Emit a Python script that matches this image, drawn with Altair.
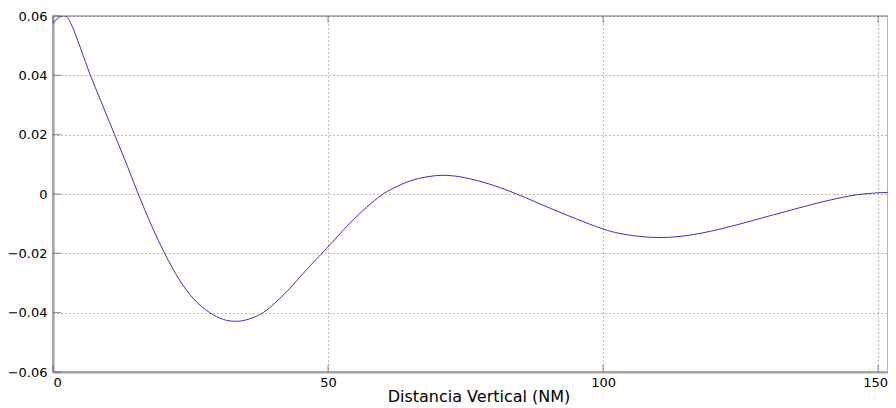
import altair as alt
import pandas as pd

# Curve values
xs = [0, 1, 1.9, 2.5, 3.0, 4.0, 5.0, 6.8, 9.0, 11.2, 13.4, 15.5, 18.0, 20.3, 23.0, 25.5,
      28.5, 31.0, 33.0, 35.0, 38.2, 42.0, 44.8, 47.0, 49.7, 53.9, 57.0, 60.0, 62.5,
      64.9, 68.0, 70.9, 74.0, 77.6, 81.2, 84.3, 87.5, 90.9, 95.0, 100.0, 103.0,
      106.7, 110.3, 114.0, 117.6, 122.0, 126.7, 131.0, 135.8, 140.0, 143.1, 146.0,
      150.0, 153.2, 155.0]
ys = [0.0574, 0.0594, 0.0601, 0.0598, 0.0584, 0.0542, 0.0492, 0.0400, 0.0300, 0.0200, 0.0100,
      0.0000, -0.0110, -0.0200, -0.0290, -0.0352, -0.0400, -0.0423, -0.0429, -0.0425,
      -0.0400, -0.0338, -0.0282, -0.0237, -0.0184, -0.0100, -0.0045, 0.0000, 0.0025,
      0.0044, 0.0058, 0.0063, 0.0058, 0.0043, 0.0022, 0.0000, -0.0025, -0.0052,
      -0.0083, -0.0118, -0.0133, -0.0143, -0.0147, -0.0143, -0.0133, -0.0115,
      -0.0092, -0.0070, -0.0046, -0.0026, -0.0013, -0.0003, 0.0004, 0.0006, 0.0006]

x_ticks = [0, 50, 100, 150]
y_ticks = [-0.06, -0.04, -0.02, 0, 0.02, 0.04, 0.06]
x_title = "Distancia Vertical (NM)"

X_MAX = 151.8
FONT = "DejaVu Sans"

df = pd.DataFrame({"x": xs, "y": ys})
xt = pd.DataFrame({"t": x_ticks})
yt = pd.DataFrame({"t": y_ticks})

label_expr = "format(datum.value, '.2f') == '0.00' ? '0' : format(datum.value, '.2f')"

xscale = alt.Scale(domain=[0, X_MAX], nice=False, zero=False)
yscale = alt.Scale(domain=[-0.06, 0.06], nice=False, zero=False)

line = alt.Chart(df).mark_line(color="#3434d0", strokeWidth=1, interpolate="catmull-rom", clip=True).encode(
    x=alt.X("x:Q", scale=xscale,
            axis=alt.Axis(values=x_ticks, title=x_title, grid=True, tickSize=0,
                          labelPadding=4, labelFont=FONT, labelFontSize=13,
                          labelOffset={"condition": {"test": "datum.value >= 150", "value": -3}, "value": 0},
                          titleFont=FONT, titleFontSize=16, titleFontWeight="normal",
                          titleX=425.5, titleY=29.5, titleBaseline="alphabetic",
                          labelColor="#000", titleColor="#000",
                          domainColor="#a0a0a0", domainWidth=2,
                          gridColor="#777", gridDash=[1, 3], gridWidth=1, gridOpacity=1)),
    y=alt.Y("y:Q", scale=yscale,
            axis=alt.Axis(values=y_ticks, title=None, grid=True, tickSize=0,
                          labelPadding=6, labelFont=FONT, labelFontSize=13, labelColor="#000",
                          labelExpr=label_expr,
                          domainColor="#a0a0a0", domainWidth=2,
                          gridColor="#777", gridDash=[1, 3], gridWidth=1, gridOpacity=1)),
)

# inward ticks on left and bottom, and on top
ytick = alt.Chart(yt).mark_tick(orient="horizontal", size=8, thickness=1, color="#555", xOffset=4).encode(
    x=alt.datum(0, scale=xscale), y=alt.Y("t:Q", scale=yscale))
xtick = alt.Chart(xt).mark_tick(orient="vertical", size=7, thickness=1, color="#555", yOffset=-3.5).encode(
    x=alt.X("t:Q", scale=xscale), y=alt.datum(-0.06, scale=yscale))
xtick_top = alt.Chart(xt).mark_tick(orient="vertical", size=7, thickness=1, color="#555", yOffset=3.5).encode(
    x=alt.X("t:Q", scale=xscale), y=alt.datum(0.06, scale=yscale))

chart = alt.layer(line, ytick, xtick, xtick_top).properties(
    width=835, height=356,
    autosize=alt.AutoSizeParams(type="none"),
    padding={"left": 45, "top": 8, "right": 0, "bottom": 36},
    background="white",
).configure_view(stroke="#a0a0a0", strokeWidth=1.5)

chart.save("out.html", embed_options={"renderer": "svg", "actions": False})
